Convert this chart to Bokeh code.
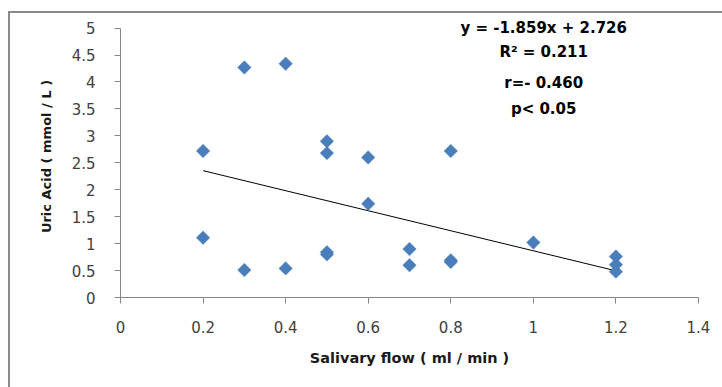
from bokeh.plotting import figure
from bokeh.models import FixedTicker, Label
from bokeh.embed import file_html
from bokeh.resources import INLINE
import numpy as np

# data
flow = [0.2, 0.2, 0.3, 0.3, 0.4, 0.4, 0.5, 0.5, 0.5, 0.5, 0.6, 0.6,
        0.7, 0.7, 0.8, 0.8, 0.8, 1.0, 1.2, 1.2, 1.2]
uric = [2.72, 1.11, 4.27, 0.51, 4.34, 0.54, 2.90, 2.68, 0.84, 0.80, 2.60, 1.74,
        0.90, 0.60, 2.72, 0.69, 0.66, 1.02, 0.76, 0.61, 0.48]

slope = -1.859
intercept = 2.726

x_ticks = [0, 0.2, 0.4, 0.6, 0.8, 1.0, 1.2, 1.4]
x_tick_labels = ["0", "0.2", "0.4", "0.6", "0.8", "1", "1.2", "1.4"]
y_ticks = [0, 0.5, 1, 1.5, 2, 2.5, 3, 3.5, 4, 4.5, 5]
y_tick_labels = ["0", "0.5", "1", "1.5", "2", "2.5", "3", "3.5", "4", "4.5", "5"]

stats_text = ["y = -1.859x + 2.726", "R\u00b2 = 0.211", "r=- 0.460", "p< 0.05"]
stats_y = [5.01, 4.56, 3.99, 3.50]
stats_x = 1.025

p = figure(frame_width=578, frame_height=282, output_backend="svg", toolbar_location=None,
           x_range=(0, 1.4), y_range=(0, 5.234),
           min_border_left=110, min_border_right=24, min_border_top=2, min_border_bottom=90)
p.styles = {"border-left": "2px solid #8a8a8a", "border-top": "2px solid #8a8a8a",
            "margin-left": "8px", "margin-top": "11px"}

p.outline_line_color = None
p.xgrid.visible = False
p.ygrid.visible = False
p.background_fill_color = "white"
p.border_fill_color = "white"

tick_font = "DejaVu Sans"
for ax, ticks, labels in ((p.xaxis[0], x_ticks, x_tick_labels), (p.yaxis[0], y_ticks, y_tick_labels)):
    ax.ticker = FixedTicker(ticks=ticks)
    ax.major_label_overrides = {t: l for t, l in zip(ticks, labels)}
    ax.axis_line_color = "#868686"
    ax.major_tick_line_color = "#868686"
    ax.major_tick_in = 0
    ax.major_tick_out = 6
    ax.minor_tick_line_color = None
    ax.major_label_text_font = tick_font
    ax.major_label_text_font_size = "15px"
    ax.major_label_text_color = "#404040"
    ax.axis_label_text_font = "DejaVu Sans"
    ax.axis_label_text_font_style = "bold"
    ax.axis_label_text_color = "#1a1a1a"

p.xaxis.axis_label_text_font_size = "14.5px"
p.yaxis.axis_label_text_font_size = "13px"
p.yaxis.bounds = (0, 5)
p.xaxis.axis_label = "Salivary flow ( ml / min )"
p.yaxis.axis_label = "Uric Acid ( mmol / L )"
p.xaxis.major_label_standoff = 17
p.yaxis.major_label_standoff = 19
p.xaxis.axis_label_standoff = 14
p.yaxis.axis_label_standoff = 15

# trendline
xl = np.array([min(flow), max(flow)])
p.line(xl, slope * xl + intercept, line_color="black", line_width=1)

p.scatter(flow, uric, marker="square", size=9.5, angle=np.pi / 4,
          fill_color="#4a7ebb", line_color="#4a7ebb", line_width=0.5)

for t, yy in zip(stats_text, stats_y):
    p.add_layout(Label(x=stats_x, y=yy, text=t, text_align="center", text_baseline="middle",
                       text_font="DejaVu Sans", text_font_style="bold", text_font_size="15px",
                       text_color="black"))

open("out.html", "w").write(file_html(p, INLINE))
